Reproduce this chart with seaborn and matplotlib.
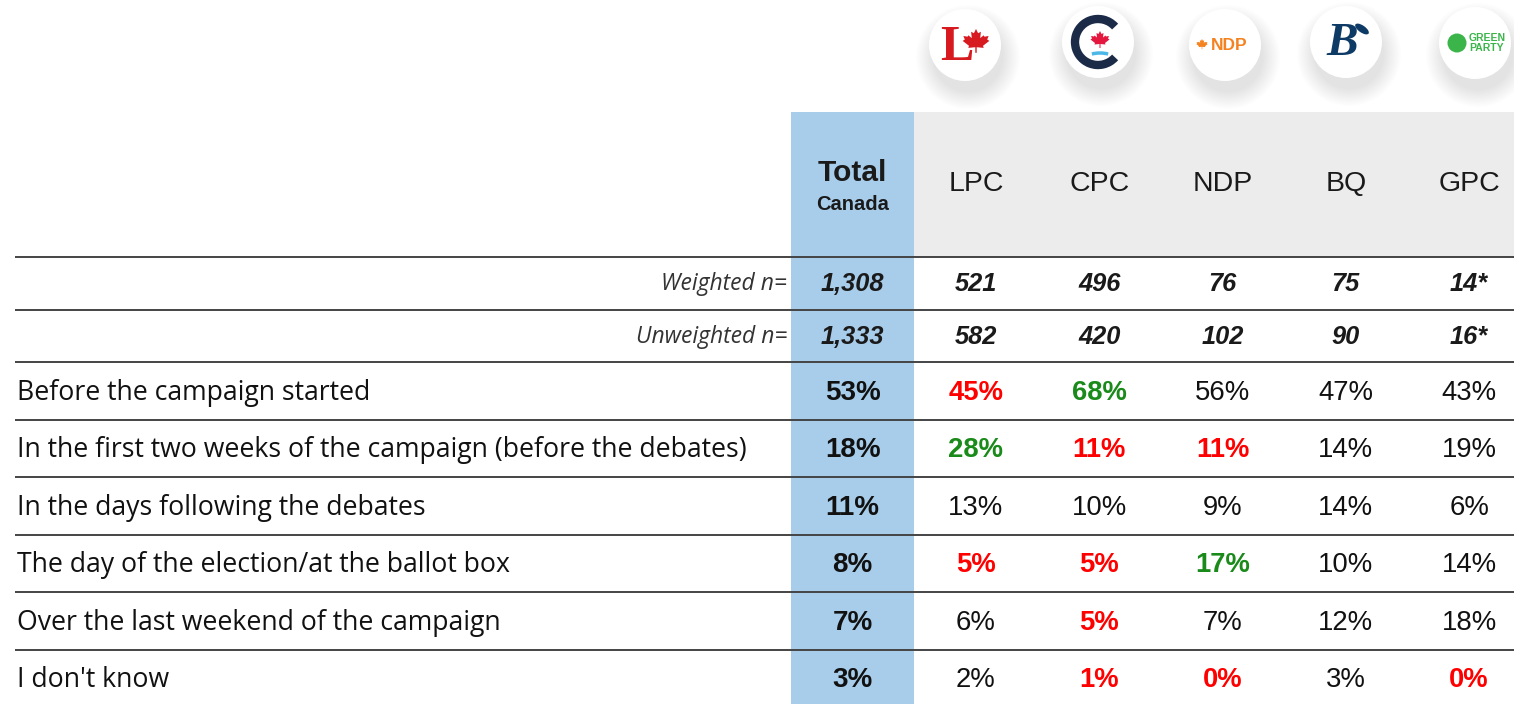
import matplotlib
matplotlib.use("Agg")
import matplotlib.pyplot as plt
import seaborn as sns
import numpy as np
from matplotlib.patches import Circle, Polygon, Arc, Ellipse

# ---------------- data ----------------
columns = ["Total", "LPC", "CPC", "NDP", "BQ", "GPC"]
total_sub = "Canada"
weighted_n = ["1,308", "521", "496", "76", "75", "14*"]
unweighted_n = ["1,333", "582", "420", "102", "90", "16*"]
row_labels = [
    "Before the campaign started",
    "In the first two weeks of the campaign (before the debates)",
    "In the days following the debates",
    "The day of the election/at the ballot box",
    "Over the last weekend of the campaign",
    "I don't know",
]
total_vals = [53, 18, 11, 8, 7, 3]
lpc_vals = [45, 28, 13, 5, 6, 2]
cpc_vals = [68, 11, 10, 5, 5, 1]
ndp_vals = [56, 11, 9, 17, 7, 0]
bq_vals = [47, 14, 14, 10, 12, 3]
gpc_vals = [43, 19, 6, 14, 18, 0]
# significance flags: "hi" = significantly higher (green), "lo" = lower (red)
lpc_sig = ["lo", "hi", "", "lo", "", ""]
cpc_sig = ["hi", "lo", "", "lo", "lo", "lo"]
ndp_sig = ["", "lo", "", "hi", "", "lo"]
bq_sig = ["", "", "", "", "", ""]
gpc_sig = ["", "", "", "", "", "lo"]

party_vals = [lpc_vals, cpc_vals, ndp_vals, bq_vals, gpc_vals]
party_sig = [lpc_sig, cpc_sig, ndp_sig, bq_sig, gpc_sig]

# ---------------- style ----------------
sns.set_theme(style="white")
plt.rcParams["font.family"] = ["Open Sans", "DejaVu Sans"]

W, H = 1514, 704
fig = plt.figure(figsize=(W / 100, H / 100), dpi=100)
ax = fig.add_axes([0, 0, 1, 1])
ax.set_xlim(0, W)
ax.set_ylim(H, 0)
ax.axis("off")

BLUE = "#a8cdeb"
GRAY = "#ececec"
RED = "#ff0000"
GREEN = "#1a8a1a"
LINE = "#444444"

# layout
col_x0 = 791
col_w = 123.3
col_centers = [col_x0 + col_w * (i + 0.5) for i in range(len(columns))]
header_top = 112
body_top = 257
n_h = 52.5
pct_h = 57.5
line_left = 15

n_rows_top = [body_top, body_top + n_h]
pct_top0 = body_top + 2 * n_h
pct_tops = [pct_top0 + i * pct_h for i in range(len(row_labels))]

# backgrounds via bars
ax.bar(col_centers[0], H - header_top, bottom=header_top, width=col_w,
       color=BLUE, linewidth=0, zorder=0)
ax.bar((col_x0 + col_w + W) / 2, body_top - header_top, bottom=header_top,
       width=W - (col_x0 + col_w), color=GRAY, linewidth=0, zorder=0)

# horizontal rules
for y in n_rows_top + pct_tops:
    ax.plot([line_left, W], [y, y], color=LINE, lw=1.4, zorder=3,
            solid_capstyle="butt")

# header text
NARROW = ["Liberation Sans Narrow", "Liberation Sans", "DejaVu Sans"]
ax.text(col_centers[0], 173, columns[0], ha="center", va="center",
        fontsize=21.5, fontweight="bold", family=NARROW, color="#1a1a1a")
ax.text(col_centers[0], 204, total_sub, ha="center", va="center",
        fontsize=14.5, fontweight="bold", family=NARROW, color="#1a1a1a")
for cx, name in zip(col_centers[1:], columns[1:]):
    ax.text(cx, 184, name, ha="center", va="center", fontsize=20.5,
            family=NARROW, color="#1a1a1a")

# n rows
ARIAL = ["Liberation Sans", "DejaVu Sans"]
for top, lab, vals in [(n_rows_top[0], "Weighted n=", weighted_n),
                       (n_rows_top[1], "Unweighted n=", unweighted_n)]:
    cy = top + n_h / 2 + 1
    ax.text(787, cy, lab, ha="right", va="center", fontsize=16.5,
            style="italic", color="#333333")
    for cx, v in zip(col_centers, vals):
        ax.text(cx, cy, v, ha="center", va="center", fontsize=18.3,
                style="italic", fontweight="bold", family=ARIAL,
                color="#1a1a1a")

# percentage rows
for i, (top, lab) in enumerate(zip(pct_tops, row_labels)):
    cy = top + pct_h / 2 + 2
    ax.text(17, cy, lab, ha="left", va="center", fontsize=19.2,
            color="#111111")
    ax.text(col_centers[0], cy, f"{total_vals[i]}%", ha="center", va="center",
            fontsize=20, fontweight="bold", family=ARIAL, color="#111111")
    for j, (vals, sig) in enumerate(zip(party_vals, party_sig)):
        s = sig[i]
        color = RED if s == "lo" else GREEN if s == "hi" else "#111111"
        weight = "bold" if s else "normal"
        ax.text(col_centers[j + 1], cy, f"{vals[i]}%", ha="center",
                va="center", fontsize=19.8, fontweight=weight, family=ARIAL,
                color=color)

# ---------------- logos ----------------
logo_x = [965, 1098, 1225, 1346, 1475]
logo_y = [45, 42, 45, 42, 43]
R = 36

leaf_pts = np.array([
    (0, 1.0), (0.15, 0.7), (0.35, 0.8), (0.3, 0.35), (0.55, 0.55),
    (0.6, 0.45), (0.9, 0.5), (0.8, 0.25), (0.95, 0.15), (0.5, -0.2),
    (0.55, -0.35), (0.05, -0.3), (0.05, -0.7), (-0.05, -0.7), (-0.05, -0.3),
    (-0.55, -0.35), (-0.5, -0.2), (-0.95, 0.15), (-0.8, 0.25), (-0.9, 0.5),
    (-0.6, 0.45), (-0.55, 0.55), (-0.3, 0.35), (-0.35, 0.8), (-0.15, 0.7)])


def leaf(cx, cy, s, color):
    pts = np.column_stack([cx + leaf_pts[:, 0] * s, cy - leaf_pts[:, 1] * s])
    ax.add_patch(Polygon(pts, closed=True, color=color, lw=0, zorder=7))


for cx, cy in zip(logo_x, logo_y):
    for k in range(14):
        ax.add_patch(Circle((cx + 3, cy + 12), R + 16 - k * 1.3,
                            color="#000000", alpha=0.009, lw=0, zorder=4))
    ax.add_patch(Circle((cx, cy), R, color="white", lw=0, zorder=5))

# LPC
ax.text(logo_x[0] - 8, logo_y[0] + 3, "L", ha="center", va="center",
        fontsize=36, fontweight="bold", family=["Liberation Serif"],
        color="#d71920", zorder=6)
leaf(logo_x[0] + 11, logo_y[0] - 2, 14, "#d71920")
# CPC
ax.add_patch(Arc((logo_x[1], logo_y[1]), 46, 46, theta1=42, theta2=318,
                 lw=6, color="#1b2a47", zorder=6))
leaf(logo_x[1] + 2, logo_y[1] - 1, 10, "#e4173e")
ax.add_patch(Arc((logo_x[1] + 2, logo_y[1] + 15), 24, 8, theta1=200,
                 theta2=340, lw=2.5, color="#4bb8e8", zorder=6))
# NDP
leaf(logo_x[2] - 23, logo_y[2], 6, "#f58220")
ax.text(logo_x[2] + 4, logo_y[2], "NDP", ha="center", va="center",
        fontsize=12.5, fontweight="bold", family=ARIAL, color="#f58220",
        zorder=6)
# BQ
ax.text(logo_x[3] - 4, logo_y[3] + 2, "B", ha="center", va="center",
        fontsize=34, fontweight="bold", style="italic",
        family=["Liberation Serif"], color="#0d3b66", zorder=6)
ax.add_patch(Ellipse((logo_x[3] + 16, logo_y[3] - 13), 16, 7, angle=35,
                     color="#0d3b66", lw=0, zorder=6))
# GPC
ax.add_patch(Circle((logo_x[4] - 18, logo_y[4]), 9.5, color="#3bb54a", lw=0,
                    zorder=6))
ax.text(logo_x[4] - 6, logo_y[4], "GREEN\nPARTY", ha="left", va="center",
        fontsize=7.5, fontweight="bold", family=ARIAL, color="#3bb54a",
        linespacing=1.0, zorder=6)

fig.savefig("out.png", dpi=100)
